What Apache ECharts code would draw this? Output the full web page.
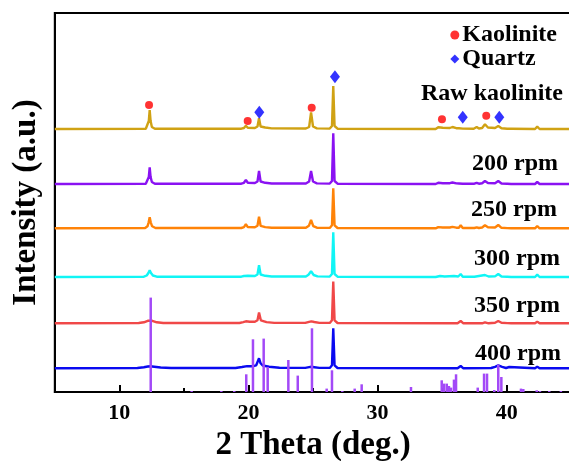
<!DOCTYPE html>
<html>
<head>
<meta charset="utf-8">
<script src="https://cdn.jsdelivr.net/npm/echarts@6/dist/echarts.min.js"></script>
<style>
html,body{margin:0;padding:0;background:#fff;}
#chart{width:569px;height:461px;}
</style>
</head>
<body>
<div id="chart"></div>
<script>
// ---- data (2θ in degrees, intensity in arbitrary units above each trace's baseline) ----
const sampleNames = ['Raw kaolinite', '200 rpm', '250 rpm', '300 rpm', '350 rpm', '400 rpm'];
const sampleColors = ['#D0A214', '#8A12F2', '#FF8308', '#10F5F5', '#F04848', '#0A0AF0'];
const sampleOffsets = [263, 208, 163.7, 115, 68.7, 23.7];

const rawKaolinite = [
  [5,0],[12.05,0.3],[12.2,2],[12.28,8],[12.35,19],[12.42,8],[12.52,2],[12.75,0.3],
  [19.45,0.3],[19.65,1],[19.8,3.3],[19.95,1.2],[20.5,1],[20.7,2.5],[20.82,10.7],[20.94,2.5],[21.3,1.5],[21.8,0.6],
  [24.45,0.5],[24.7,2],[24.85,16.7],[25.0,2.5],[25.3,0.6],
  [26.3,0.4],[26.47,3],[26.57,43],[26.67,3],[26.9,0.3],
  [34.5,0],[34.7,1.8],[34.84,3],[35.05,1.2],[35.6,1],[35.8,2],[35.92,3],[36.1,0.8],[36.3,0.8],[36.44,2.3],[36.6,0.4],
  [37.45,0.3],[37.6,1.5],[37.68,2],[37.85,0.5],[38.1,1],[38.32,4.7],[38.55,1.5],[39.1,1],[39.35,3],[39.6,0.8],[40.05,0.3],[40.2,1.7],[40.35,0.3],
  [42.2,0],[42.37,2.3],[42.55,0],[45,0]
];
const rpm200 = [
  [5,0],[12.05,0.3],[12.2,2],[12.28,7],[12.35,16.7],[12.42,7],[12.52,2],[12.75,0.3],
  [19.45,0.3],[19.65,1.2],[19.8,4],[19.95,1.2],[20.5,1],[20.7,2.5],[20.82,13],[20.94,2.5],[21.3,1.2],[21.8,0.5],
  [24.45,0.5],[24.7,2.5],[24.85,13],[25.0,2.5],[25.3,0.6],
  [26.3,0.4],[26.47,3],[26.57,50.7],[26.67,3],[26.9,0.3],
  [34.5,0],[34.7,1.2],[34.84,2],[35.05,0.8],[35.6,0.8],[35.8,1.5],[35.92,2.5],[36.1,0.6],[36.3,0.5],[36.44,1.5],[36.6,0.3],
  [37.5,0.3],[37.68,1.2],[37.85,0.3],[38.1,0.8],[38.32,3],[38.55,1],[39.1,0.8],[39.35,3],[39.6,0.5],[40.05,0.2],[40.2,1],[40.35,0],
  [42.2,0],[42.37,2],[42.55,0],[45,0]
];
const rpm250 = [
  [5,0],[12.0,0.3],[12.18,2],[12.27,6],[12.35,11],[12.43,6],[12.54,2],[12.8,0.3],
  [19.45,0.3],[19.65,1.2],[19.8,4],[19.95,1.2],[20.5,1],[20.7,2.5],[20.82,11.7],[20.94,2.5],[21.3,1.2],[21.8,0.5],
  [24.45,0.5],[24.68,2.5],[24.85,8.3],[25.02,2.2],[25.3,0.6],
  [26.3,0.4],[26.47,3],[26.57,40],[26.67,3],[26.9,0.3],
  [34.5,0],[34.7,1.2],[34.84,2],[35.05,0.8],[35.6,0.8],[35.8,1.5],[35.92,2],[36.1,0.6],[36.3,0.6],[36.44,3],[36.6,0.3],
  [37.5,0.3],[37.68,1],[37.85,0.3],[38.1,0.8],[38.32,3],[38.55,1],[39.1,0.8],[39.35,3.3],[39.6,0.5],[40.05,0.2],[40.2,1],[40.35,0],
  [42.2,0],[42.37,2.3],[42.55,0],[45,0]
];
const rpm300 = [
  [5,0],[11.9,0.3],[12.12,1.5],[12.25,4],[12.35,6.7],[12.45,4],[12.6,1.5],[12.9,0.3],
  [19.45,0.3],[19.65,1],[19.8,3],[19.95,1.2],[20.5,1],[20.7,2.5],[20.82,11.7],[20.94,2.5],[21.3,1.2],[21.8,0.5],
  [24.45,0.5],[24.65,2.2],[24.85,5.7],[25.05,2],[25.35,0.6],
  [26.3,0.4],[26.47,3],[26.57,44.7],[26.67,3],[26.9,0.3],
  [34.5,0],[34.84,1],[35.2,0.5],[35.92,1],[36.25,0.5],[36.44,3],[36.6,0.3],
  [37.5,0.3],[38.32,2],[38.6,0.5],[39.1,0.6],[39.35,3],[39.6,0.5],[40.05,0.2],[40.2,1],[40.35,0],
  [42.2,0],[42.37,2.3],[42.55,0],[45,0]
];
const rpm350 = [
  [5,0],[11.5,0.3],[11.9,1],[12.2,2.5],[12.35,3.3],[12.55,2.5],[12.9,1],[13.4,0.3],
  [19.3,0.3],[19.6,1.2],[19.8,2],[20.1,1.5],[20.5,1.5],[20.7,3],[20.82,10.7],[20.96,3],[21.4,1.2],[22,0.4],
  [24.4,0.4],[24.7,1.5],[24.87,2],[25.1,1.3],[25.5,0.4],
  [26.3,0.4],[26.47,3],[26.57,41.7],[26.67,3],[26.9,0.3],
  [36.2,0],[36.44,2.3],[36.65,0],
  [38.1,0],[38.32,1],[38.6,0],[39.1,0.5],[39.35,2.3],[39.6,0.5],[40.05,0.2],[40.2,1],[40.35,0],
  [42.2,0],[42.37,1.7],[42.55,0],[45,0]
];
const rpm400 = [
  [5,0],[11.4,0.3],[11.9,1],[12.2,1.8],[12.4,2],[12.7,1.6],[13.2,0.8],[14,0.3],
  [19.0,0.3],[19.5,1.3],[19.9,2.2],[20.3,2],[20.6,3],[20.72,5],[20.82,10],[20.94,5],[21.1,2.8],[21.6,1.6],[22.4,0.5],
  [24.4,0.4],[24.7,1.2],[24.87,1.5],[25.1,1.1],[25.5,0.4],
  [26.3,0.4],[26.47,3],[26.57,40],[26.67,3],[26.9,0.3],
  [36.2,0],[36.44,2.3],[36.65,0],
  [38.8,0.3],[39.1,1.5],[39.35,3],[39.65,1.5],[39.95,0.3],[40.2,1.3],[40.35,0],
  [42.2,0],[42.37,1.7],[42.55,0],[45,0]
];
const sampleTraces = [rawKaolinite, rpm200, rpm250, rpm300, rpm350, rpm400];

// reference pattern sticks (2θ, relative intensity)
const referenceSticks = [
  [12.43,94.4],[15.6,1],[17.9,1],[18.9,1],[19.83,17.7],[20.35,52.7],[21.18,53.4],[21.49,25],
  [23.09,32],[23.82,16.4],[24.92,63.7],[26.06,3.4],[26.47,21.7],[27.27,1],[28.23,3.4],[28.77,7.7],
  [32.59,5],[34.97,11.7],[35.15,8.4],[35.36,8.4],[35.53,6],[35.69,4.4],[35.92,12.4],[36.08,17.7],
  [37.76,4.4],[38.25,18.4],[38.48,18.4],[39.04,2],[39.35,27.4],[39.59,15],[41.11,3.4],[41.29,3],
  [42.33,1.7],[42.58,1],[43.3,1],[44.2,1]
];

// phase markers (2θ, height on the plot)
const kaoliniteMarks = [[12.3,287],[19.94,271],[24.9,284.3],[34.99,272.7],[38.42,276.3]];
const quartzMarks = [[20.84,279.7],[26.7,315.3],[36.6,274.7],[39.43,274.7]];

const majorTicks = [10, 20, 30, 40];
const minorTicks = [15, 25, 35];

// ---- chart ----
const FONT = '"Liberation Serif", "Times New Roman", serif';
const chart = echarts.init(document.getElementById('chart'), null, {renderer: 'canvas'});

const lineSeries = sampleTraces.map((trace, i) => ({
  name: sampleNames[i],
  type: 'line',
  showSymbol: false,
  symbol: 'none',
  smooth: false,
  lineStyle: {color: sampleColors[i], width: 2.4},
  itemStyle: {color: sampleColors[i]},
  data: trace.map(p => [p[0], p[1] + sampleOffsets[i]]),
  z: 2
}));

const labelY = [95, 165, 211, 260, 306.7, 355];
const labelRight = [563, 558, 557, 560, 560, 561];

const option = {
  animation: false,
  backgroundColor: '#fff',
  grid: {left: 54.8, top: 13, width: 516.4, height: 379, outerBoundsMode: 'none', containLabel: false,
         show: true, borderColor: '#000', borderWidth: 2, backgroundColor: 'transparent'},
  legend: {
    orient: 'vertical',
    right: 7,
    top: 18,
    itemWidth: 9,
    itemHeight: 9,
    itemGap: 0,
    data: ['Kaolinite', 'Quartz'],
    textStyle: {fontFamily: FONT, fontWeight: 'bold', fontSize: 24, color: '#000', lineHeight: 23, padding: [0, 0, 0, -2]}
  },
  xAxis: [{
    type: 'value', min: 5, max: 45, position: 'bottom',
    axisLine: {show: true, onZero: false, lineStyle: {color: '#000', width: 2}},
    axisTick: {show: true, inside: true, length: 7, customValues: majorTicks, lineStyle: {color: '#000', width: 2}},
    axisLabel: {show: true, customValues: majorTicks, margin: 10, fontFamily: FONT, fontWeight: 'bold', fontSize: 22, color: '#000'},
    splitLine: {show: false},
    name: '2 Theta (deg.)', nameLocation: 'middle', nameGap: 35,
    nameTextStyle: {fontFamily: FONT, fontWeight: 'bold', fontSize: 33, color: '#000'}
  }, {
    type: 'value', min: 5, max: 45, position: 'bottom',
    axisLine: {show: false},
    axisTick: {show: true, inside: true, length: 4, customValues: minorTicks, lineStyle: {color: '#000', width: 2}},
    axisLabel: {show: false},
    splitLine: {show: false}
  }],
  yAxis: {
    type: 'value', min: 0, max: 379,
    axisLine: {show: true, lineStyle: {color: '#000', width: 2}},
    axisTick: {show: false},
    axisLabel: {show: false},
    splitLine: {show: false},
    name: 'Intensity (a.u.)', nameLocation: 'middle', nameRotate: 90, nameGap: 12,
    nameTextStyle: {fontFamily: FONT, fontWeight: 'bold', fontSize: 33, color: '#000'}
  },
  series: [
    ...lineSeries,
    {
      name: 'Reference', type: 'bar', barWidth: 2.5, data: referenceSticks,
      itemStyle: {color: '#A349F7'}, z: 3, legendHoverLink: false
    },
    {
      name: 'Kaolinite', type: 'scatter', symbol: 'circle', symbolSize: 8,
      itemStyle: {color: '#FF0000'}, data: kaoliniteMarks, z: 4
    },
    {
      name: 'Quartz', type: 'scatter', symbol: 'diamond', symbolSize: [10, 13],
      itemStyle: {color: '#0000FF'}, data: quartzMarks, z: 4
    }
  ],
  graphic: sampleNames.map((name, i) => ({
    type: 'text',
    right: 569 - labelRight[i],
    top: labelY[i] - 13,
    style: {text: name, fontFamily: FONT, fontWeight: 'bold', fontSize: 24, fill: '#000'},
    z: 10
  }))
};

chart.setOption(option);
</script>
</body>
</html>
